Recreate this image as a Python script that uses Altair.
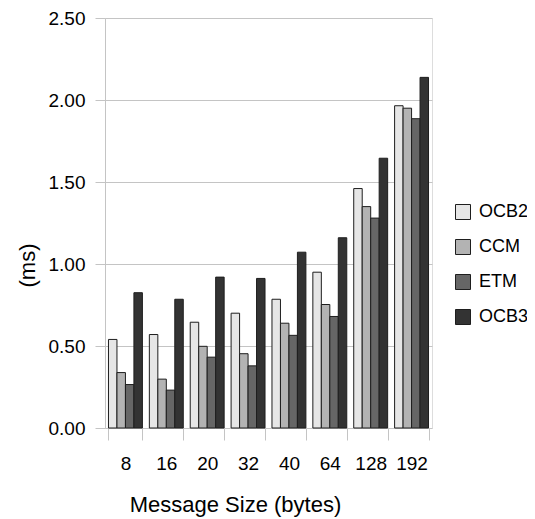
import altair as alt
import pandas as pd

sizes = ["8", "16", "20", "32", "40", "64", "128", "192"]
series = ["OCB2", "CCM", "ETM", "OCB3"]
colors = ["#e6e6e6", "#b3b3b3", "#666666", "#333333"]

ocb2 = [0.54, 0.57, 0.645, 0.70, 0.785, 0.95, 1.46, 1.965]
ccm = [0.338, 0.298, 0.498, 0.453, 0.639, 0.753, 1.35, 1.95]
etm = [0.265, 0.231, 0.432, 0.379, 0.565, 0.68, 1.28, 1.886]
ocb3 = [0.825, 0.785, 0.92, 0.912, 1.072, 1.16, 1.645, 2.138]

y_ticks = [0.0, 0.5, 1.0, 1.5, 2.0, 2.5]

rows = []
for name, vals in zip(series, [ocb2, ccm, etm, ocb3]):
    for s, v in zip(sizes, vals):
        rows.append({"size": s, "series": name, "value": v})
df = pd.DataFrame(rows)

FONT = "Liberation Sans"
LINE = "#c4c4c4"

chart = alt.Chart(df).mark_bar(stroke="#1e1e1e", strokeWidth=1).encode(
    x=alt.X(
        "size:N",
        sort=sizes,
        scale=alt.Scale(paddingInner=0.17, paddingOuter=0.085),
        axis=alt.Axis(
            title="Message Size (bytes)",
            labelAngle=0,
            tickBand="extent",
            tickSize=12,
            tickColor=LINE,
            domain=False,
            grid=False,
            labelPadding=14,
            labelFontSize=19,
            labelFont=FONT,
            labelColor="#000000",
            titleFont=FONT,
            titleFontSize=22,
            titleFontWeight="normal",
            titleColor="#000000",
            titleX=130,
            titleY=83,
            titleBaseline="alphabetic",
        ),
    ),
    xOffset=alt.XOffset("series:N", sort=series,
                        scale=alt.Scale(paddingInner=0, paddingOuter=0)),
    y=alt.Y(
        "value:Q",
        scale=alt.Scale(domain=[0, 2.5]),
        axis=alt.Axis(
            values=y_ticks,
            format=".2f",
            title="(ms)",
            domain=True,
            domainColor=LINE,
            tickSize=10,
            tickColor=LINE,
            gridColor=LINE,
            labelPadding=10,
            labelFontSize=19,
            labelFont=FONT,
            labelColor="#000000",
            titleFont=FONT,
            titleFontSize=22,
            titleFontWeight="normal",
            titleColor="#000000",
            titleAngle=270,
            titleX=-78,
            titleY=247,
            titleBaseline="middle",
            titleAlign="center",
        ),
    ),
    color=alt.Color(
        "series:N",
        sort=series,
        scale=alt.Scale(domain=series, range=colors),
        legend=alt.Legend(
            title=None,
            orient="none",
            legendX=349,
            legendY=185,
            symbolType="square",
            symbolSize=225,
            symbolStrokeColor="#1e1e1e",
            symbolStrokeWidth=1,
            symbolOpacity=1,
            labelFont=FONT,
            labelFontSize=18,
            labelColor="#000000",
            labelOffset=7,
            rowPadding=15,
            padding=0,
        ),
    ),
).properties(
    width=327,
    height=410,
    autosize=alt.AutoSizeParams(type="none"),
    padding={"left": 97, "top": 10, "right": 95, "bottom": 89},
).configure_view(stroke=LINE, strokeWidth=1).configure(background="#ffffff")

chart.save("out.html", embed_options={"renderer": "svg", "actions": False})
